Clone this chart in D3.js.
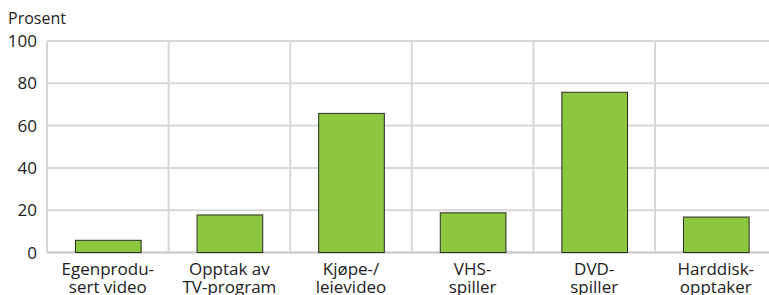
<!DOCTYPE html>
<html><head><meta charset="utf-8">
<script src="https://cdn.jsdelivr.net/npm/d3@7"></script>
<style>body{margin:0;background:#fff}svg{display:block}text{font-family:"Open Sans",sans-serif;fill:#222}</style>
</head><body>
<script>
const categories = [["Egenprodu-","sert video"],["Opptak av","TV-program"],["Kjøpe-/","leievideo"],["VHS-","spiller"],["DVD-","spiller"],["Harddisk-","opptaker"]];
const values = [6, 18, 66, 19, 76, 17];
const yTicks = [0, 20, 40, 60, 80, 100];
const yLabel = "Prosent";

const W = 769, H = 295;
const pLeft = 47, pTop = 41, pBottom = 252.5, pRight = 47 + 6 * 121.6;
const svg = d3.select("body").append("svg").attr("width", W).attr("height", H);
const x = d3.scaleBand().domain(d3.range(categories.length)).range([pLeft, pRight]).paddingInner(0.46).paddingOuter(0.23);
const xb = d3.scaleBand().domain(d3.range(categories.length)).range([pLeft, pRight]);
const y = d3.scaleLinear().domain([0, 100]).range([pBottom, pTop]);

const grid = "#d7d7d7";
svg.append("g").selectAll("line").data(yTicks.filter(d => d > 0)).join("line")
  .attr("x1", pLeft).attr("x2", W).attr("y1", d => y(d)).attr("y2", d => y(d))
  .attr("stroke", grid).attr("stroke-width", 2);
svg.append("g").selectAll("line").data(d3.range(categories.length)).join("line")
  .attr("x1", d => xb(d)).attr("x2", d => xb(d)).attr("y1", pTop).attr("y2", pBottom)
  .attr("stroke", grid).attr("stroke-width", 2);
svg.append("line").attr("x1", pLeft).attr("x2", W).attr("y1", pBottom).attr("y2", pBottom)
  .attr("stroke", "#cfcfcf").attr("stroke-width", 2.5);

svg.append("g").selectAll("rect").data(values).join("rect")
  .attr("x", (d, i) => x(i) + 0.5).attr("width", x.bandwidth())
  .attr("y", d => y(d) + 0.5).attr("height", d => y(0) - y(d) - 0.5)
  .attr("fill", "#8dc63f").attr("stroke", "#2b2b2b").attr("stroke-width", 1);

svg.append("g").selectAll("text").data(yTicks).join("text")
  .attr("x", 37).attr("y", d => y(d)).attr("dy", "0.36em").attr("text-anchor", "end")
  .attr("font-size", 17).text(d => d);
svg.append("text").attr("x", 8).attr("y", 24).attr("font-size", 16).text(yLabel);

const lab = svg.append("g").selectAll("text").data(categories).join("text")
  .attr("text-anchor", "middle").attr("font-size", 17)
  .attr("transform", (d, i) => `translate(${xb(i) + xb.bandwidth() / 2},0)`);
lab.selectAll("tspan").data(d => d).join("tspan").attr("x", 0)
  .attr("y", (d, j) => 275 + j * 18).text(d => d);
</script>
</body></html>
